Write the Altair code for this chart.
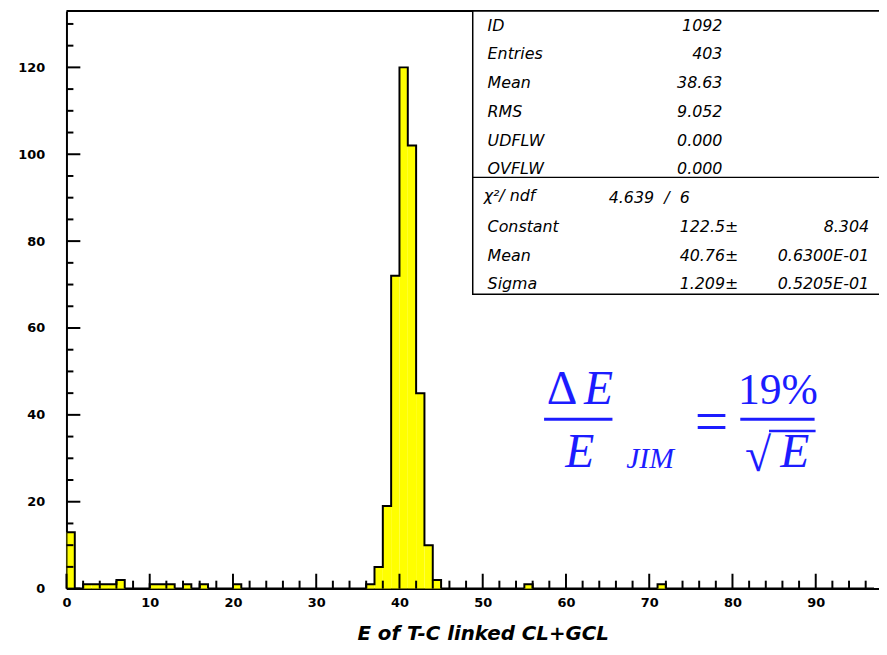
import altair as alt
import pandas as pd

# ---------------- data ----------------
# histogram (bin width 1): lower edges of non-empty bins and their counts
bin_lo = [0, 2, 3, 4, 5, 6, 10, 11, 12, 14, 16, 20, 36, 37, 38, 39, 40, 41, 42, 43, 44, 55, 71]
counts = [13, 1, 1, 1, 1, 2, 1, 1, 1, 1, 1, 1, 1, 5, 19, 72, 120, 102, 45, 10, 2, 1, 1]
BIN_WIDTH = 1

x_label_values = [0, 10, 20, 30, 40, 50, 60, 70, 80, 90]
x_minor_values = [v for v in range(2, 98, 2) if v % 10 != 0]
y_label_values = [0, 20, 40, 60, 80, 100, 120]
y_minor_values = [v for v in range(5, 135, 5) if v % 20 != 0]

x_title = "E of T-C linked CL+GCL"

stat_names = ["ID", "Entries", "Mean", "RMS", "UDFLW", "OVFLW"]
stat_values = ["1092", "403", "38.63", "9.052", "0.000", "0.000"]
chi2_label = "χ²/ ndf"
chi2_parts = ["4.639", "/", "6"]
fit_names = ["Constant", "Mean", "Sigma"]
fit_values = ["122.5±", "40.76±", "1.209±"]
fit_errors = ["8.304", "0.6300E-01", "0.5205E-01"]

# ---------------- layout ----------------
W, H = 820, 583
X_DOMAIN = [0, 97.6]
Y_DOMAIN = [0, 133]
BLUE = "#1c1cff"
FONT = "DejaVu Sans"
SERIF = "Liberation Serif"

xs = alt.Scale(domain=X_DOMAIN, nice=False, zero=False)
ys = alt.Scale(domain=Y_DOMAIN, nice=False, zero=False)

hist = pd.DataFrame({"lo": bin_lo, "count": counts})
hist["hi"] = hist["lo"] + BIN_WIDTH

full = pd.DataFrame({"lo": list(range(0, 98))})
full = full.merge(hist[["lo", "count"]], on="lo", how="left").fillna(0)
outline = pd.concat([pd.DataFrame({"lo": [0], "count": [0]}), full], ignore_index=True)
outline["i"] = range(len(outline))

x_axis = alt.Axis(
    values=x_label_values, title=x_title, grid=False, ticks=False,
    domainColor="black", domainWidth=2, format="d",
    labelFont=FONT, labelFontWeight="bold", labelFontSize=13, labelColor="black",
    labelPadding=8, labelFlush=False, labelOverlap=False,
    titleFont=FONT, titleFontStyle="italic", titleFontWeight="bold", titleFontSize=20,
    titleColor="black", titleX=420, titleY=45, titleBaseline="middle", titleAlign="center",
)
y_axis = alt.Axis(
    values=y_label_values, title=None, grid=False, ticks=False,
    domainColor="black", domainWidth=2, format="d",
    labelFont=FONT, labelFontWeight="bold", labelFontSize=13, labelColor="black",
    labelPadding=22, labelFlush=False, labelOverlap=False,
)

bars = alt.Chart(hist).mark_rect(color="#ffff00").encode(
    x=alt.X("lo:Q", scale=xs, axis=x_axis),
    x2="hi:Q",
    y=alt.Y("count:Q", scale=ys, axis=y_axis),
    y2=alt.datum(0),
)

line = alt.Chart(outline).mark_line(
    interpolate="step-after", color="black", strokeWidth=2, clip=True
).encode(
    x=alt.X("lo:Q", scale=xs, axis=x_axis),
    y=alt.Y("count:Q", scale=ys, axis=y_axis),
    order="i:Q",
)


def xticks(vals, length):
    return alt.Chart(pd.DataFrame({"v": vals})).mark_rule(color="black", strokeWidth=2).encode(
        x=alt.X("v:Q", scale=xs, axis=x_axis), y=alt.value(H), y2=alt.value(H - length)
    )


def yticks(vals, length):
    return alt.Chart(pd.DataFrame({"v": vals})).mark_rule(color="black", strokeWidth=2).encode(
        y=alt.Y("v:Q", scale=ys, axis=y_axis), x=alt.value(0), x2=alt.value(length)
    )


def txt(s, x, y, align="left", size=16, font=FONT, style="italic", weight="normal",
        color="black", baseline="middle"):
    return alt.Chart(pd.DataFrame({"t": [s]})).mark_text(
        align=align, baseline=baseline, font=font, fontSize=size, fontStyle=style,
        fontWeight=weight, color=color,
    ).encode(x=alt.value(x), y=alt.value(y), text="t:N")


def hrule(x1, x2, y, color="black", width=2):
    return alt.Chart(pd.DataFrame({"t": [0]})).mark_rule(color=color, strokeWidth=width).encode(
        x=alt.value(x1), x2=alt.value(x2), y=alt.value(y)
    )


layers = [bars, line,
          xticks(x_label_values, 15), xticks(x_minor_values, 8),
          yticks(y_label_values, 14), yticks(y_minor_values, 7),
          hrule(0, W + 10, 0)]

# statistics box
BOX_L = 410
box = alt.Chart(pd.DataFrame({"t": [0]})).mark_rect(
    fill="white", stroke="black", strokeWidth=1.5
).encode(x=alt.value(BOX_L), x2=alt.value(W + 12), y=alt.value(0), y2=alt.value(286))
layers.append(box)
layers.append(hrule(BOX_L, W + 12, 168, width=1.5))

ROW0, DY = 15, 29
for k, (n, v) in enumerate(zip(stat_names, stat_values)):
    layers.append(txt(n, 425, ROW0 + DY * k))
    layers.append(txt(v, 662, ROW0 + DY * k, align="right"))

ychi = ROW0 + DY * 6
layers.append(txt(chi2_label, 421, ychi - 2))
layers.append(txt(chi2_parts[0], 593, ychi, align="right"))
layers.append(txt(chi2_parts[1], 606, ychi, align="center"))
layers.append(txt(chi2_parts[2], 624, ychi, align="center"))
for k, (n, v, e) in enumerate(zip(fit_names, fit_values, fit_errors)):
    yy = ROW0 + DY * (7 + k)
    layers.append(txt(n, 425, yy))
    layers.append(txt(v, 678, yy, align="right"))
    layers.append(txt(e, 810, yy, align="right"))

# resolution formula
layers += [
    txt("Δ", 500, 397, align="center", size=48, font=SERIF, style="normal", color=BLUE, baseline="alphabetic"),
    txt("E", 537, 397, align="center", size=48, font=SERIF, color=BLUE, baseline="alphabetic"),
    hrule(482, 551, 412, color=BLUE, width=3),
    txt("E", 518, 460, align="center", size=48, font=SERIF, color=BLUE, baseline="alphabetic"),
    txt("JIM", 589, 461, align="center", size=30, font=SERIF, color=BLUE, baseline="alphabetic"),
    txt("=", 651, 434, align="center", size=60, font=SERIF, style="normal", color=BLUE, baseline="alphabetic"),
    txt("19%", 718, 397, align="center", size=44, font=SERIF, style="normal", color=BLUE, baseline="alphabetic"),
    hrule(680, 755, 412, color=BLUE, width=3),
    txt("√", 698, 464, align="center", size=48, font=SERIF, style="normal", color=BLUE, baseline="alphabetic"),
    txt("E", 735, 460, align="center", size=48, font=SERIF, color=BLUE, baseline="alphabetic"),
    hrule(709, 756, 424, color=BLUE, width=2.5),
]

chart = alt.layer(*layers).properties(
    width=W, height=H,
    autosize=alt.AutoSizeParams(type="none"),
    padding={"left": 59, "top": 0, "right": 0, "bottom": 56},
    background="white",
).configure_view(stroke=None)

chart.save("out.html", embed_options={"renderer": "svg", "actions": False})
